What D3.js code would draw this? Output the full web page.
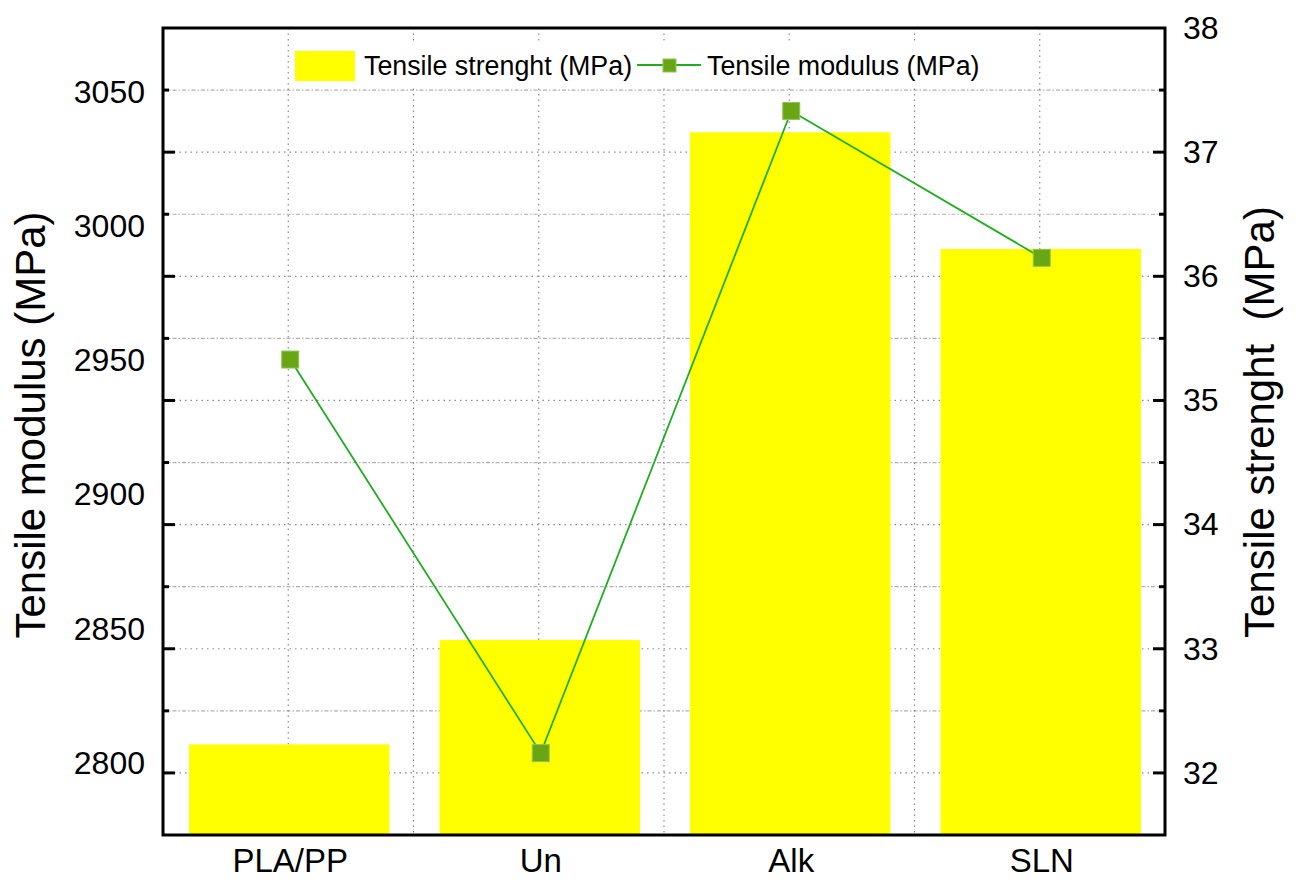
<!DOCTYPE html>
<html>
<head>
<meta charset="utf-8">
<script src="https://cdn.jsdelivr.net/npm/d3@7/dist/d3.min.js"></script>
<style>
  html, body { margin: 0; padding: 0; background: #fff; }
  svg { display: block; font-family: "Liberation Sans", Arial, sans-serif; }
</style>
</head>
<body>
<svg id="chart" width="1296" height="886"></svg>
<script>
// Samples on the x axis
const categories = ["PLA/PP", "Un", "Alk", "SLN"];
// Tensile strength, bars on the right axis (MPa)
const strength = [32.23, 33.07, 37.16, 36.22];
// Tensile modulus, line on the left axis (MPa)
const modulus = [2950.3, 2803.7, 3042.9, 2988.2];
// Axis tick labels
const leftTicks = [2800, 2850, 2900, 2950, 3000, 3050];
const rightTicks = [32, 33, 34, 35, 36, 37, 38];
// Tick marks / grid positions shared by both spines
const gridTicks = [32, 32.5, 33, 33.5, 34, 34.5, 35, 35.5, 36, 36.5, 37, 37.5];

const svg = d3.select("#chart");
const plot = { left: 163, right: 1165, top: 28, bottom: 835 };

const x = d3.scaleBand().domain(categories).range([plot.left, plot.right]).paddingInner(0.2).paddingOuter(0.1);
const xc = d3.scaleBand().domain(categories).range([plot.left, plot.right]);
const yRight = d3.scaleLinear().domain([31.5, 38]).range([plot.bottom, plot.top]);
const yLeft = d3.scaleLinear().domain([2773.2, 3073.8]).range([plot.bottom, plot.top]);

// Grid
const grid = svg.append("g");
gridTicks.forEach(t => {
  const isInt = Number.isInteger(t);
  grid.append("line")
    .attr("x1", plot.left).attr("x2", plot.right)
    .attr("y1", yRight(t)).attr("y2", yRight(t))
    .attr("stroke", isInt ? "#8a8a8a" : "#b0b0b0")
    .attr("stroke-width", 1.2)
    .attr("stroke-dasharray", isInt ? "1.5,4" : "4,2,1.5,2");
});
const vLines = [];
categories.forEach((c, i) => {
  vLines.push(xc(c) + xc.bandwidth() / 2);
  if (i > 0) vLines.push(xc(c));
});
vLines.forEach(v => {
  grid.append("line")
    .attr("x1", v).attr("x2", v)
    .attr("y1", plot.top).attr("y2", plot.bottom)
    .attr("stroke", "#8a8a8a").attr("stroke-width", 1.2)
    .attr("stroke-dasharray", "1.5,4");
});

// Bars
svg.append("g").selectAll("rect").data(categories).join("rect")
  .attr("x", d => x(d) + 1)
  .attr("width", x.bandwidth())
  .attr("y", (d, i) => yRight(strength[i]))
  .attr("height", (d, i) => plot.bottom - yRight(strength[i]))
  .attr("fill", "#ffff00");

// Modulus line
const pts = categories.map((c, i) => [xc(c) + xc.bandwidth() / 2 + 2, yLeft(modulus[i])]);
svg.append("path")
  .attr("d", d3.line()(pts))
  .attr("fill", "none").attr("stroke", "#1fae1f").attr("stroke-width", 1.8);
svg.append("g").selectAll("rect").data(pts).join("rect")
  .attr("x", d => d[0] - 8.5).attr("y", d => d[1] - 8.5)
  .attr("width", 17).attr("height", 17)
  .attr("fill", "#6aa514").attr("stroke", "#8fc55a").attr("stroke-width", 1);

// Frame
svg.append("rect")
  .attr("x", plot.left).attr("y", plot.top)
  .attr("width", plot.right - plot.left).attr("height", plot.bottom - plot.top)
  .attr("fill", "none").attr("stroke", "#000").attr("stroke-width", 3);

// Tick marks on both spines
const tickG = svg.append("g").attr("stroke", "#000").attr("stroke-width", 3);
gridTicks.forEach(t => {
  const len = Number.isInteger(t) ? 12 : 6;
  const yy = yRight(t);
  tickG.append("line").attr("x1", plot.left).attr("x2", plot.left + len).attr("y1", yy).attr("y2", yy);
  tickG.append("line").attr("x1", plot.right).attr("x2", plot.right - len).attr("y1", yy).attr("y2", yy);
});

// Left axis labels
const axL = svg.append("g").attr("transform", `translate(${plot.left},0)`)
  .call(d3.axisLeft(yLeft).tickValues(leftTicks).tickSize(0).tickPadding(18).tickFormat(d3.format("d")));
axL.select(".domain").remove();
axL.selectAll("text").attr("font-size", 32).attr("fill", "#000").attr("font-family", "Liberation Sans, Arial, sans-serif");

// Right axis labels
const axR = svg.append("g").attr("transform", `translate(${plot.right},0)`)
  .call(d3.axisRight(yRight).tickValues(rightTicks).tickSize(0).tickPadding(18).tickFormat(d3.format("d")));
axR.select(".domain").remove();
axR.selectAll("text").attr("font-size", 32).attr("fill", "#000").attr("font-family", "Liberation Sans, Arial, sans-serif");

// Category labels
const axB = svg.append("g").attr("transform", `translate(0,${plot.bottom})`)
  .call(d3.axisBottom(xc).tickSize(0).tickPadding(14));
axB.select(".domain").remove();
axB.selectAll("text").attr("font-size", 33).attr("fill", "#000").attr("font-family", "Liberation Sans, Arial, sans-serif")
  .attr("dx", 2);

// Axis titles
svg.append("text")
  .attr("transform", "translate(45,425) rotate(-90)")
  .attr("text-anchor", "middle").attr("font-size", 42).attr("fill", "#000")
  .text("Tensile modulus (MPa)");
svg.append("text")
  .attr("transform", "translate(1274,422) rotate(-90)")
  .attr("text-anchor", "middle").attr("font-size", 42).attr("fill", "#000")
  .attr("xml:space", "preserve").style("white-space", "pre")
  .text("Tensile strenght  (MPa)");

// Legend
const lg = svg.append("g");
lg.append("rect").attr("x", 293).attr("y", 42).attr("width", 700).attr("height", 44).attr("fill", "#fff");
lg.append("rect").attr("x", 295).attr("y", 51).attr("width", 60).attr("height", 30).attr("fill", "#ffff00");
lg.append("text").attr("x", 364).attr("y", 75).attr("font-size", 26.8).attr("fill", "#000").text("Tensile strenght (MPa)");
lg.append("line").attr("x1", 637).attr("x2", 701).attr("y1", 65).attr("y2", 65)
  .attr("stroke", "#1fae1f").attr("stroke-width", 1.8);
lg.append("rect").attr("x", 663).attr("y", 59).attr("width", 13).attr("height", 13)
  .attr("fill", "#6aa514").attr("stroke", "#8fc55a").attr("stroke-width", 1);
lg.append("text").attr("x", 707).attr("y", 75).attr("font-size", 26.8).attr("fill", "#000").text("Tensile modulus (MPa)");
</script>
</body>
</html>
